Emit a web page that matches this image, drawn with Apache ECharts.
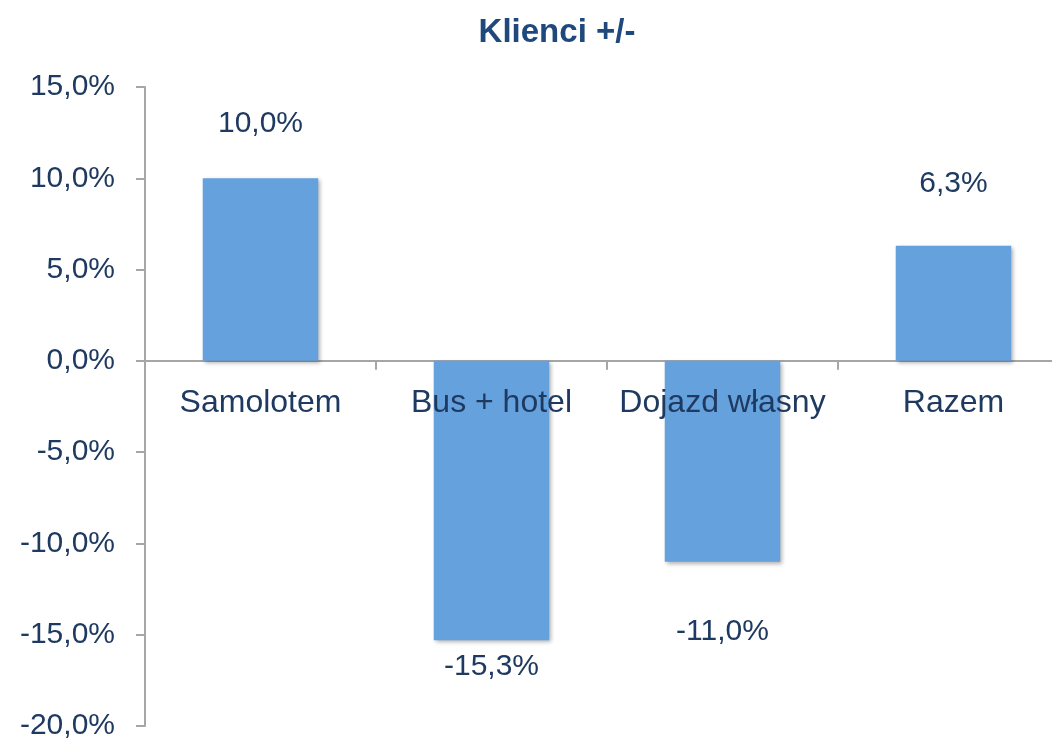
<!DOCTYPE html>
<html><head><meta charset="utf-8">
<script src="https://cdn.jsdelivr.net/npm/echarts@6/dist/echarts.min.js"></script>
<style>html,body{margin:0;padding:0;background:#fff}#c{width:1052px;height:744px}</style>
</head><body><div id="c"></div>
<script>
const categories = ['Samolotem', 'Bus + hotel', 'Dojazd własny', 'Razem'];
const values = [10.0, -15.3, -11.0, 6.3];
const yTicks = [-20, -15, -10, -5, 0, 5, 10, 15];

const labelDist = [40, 12, 55, 47];
const fmt = v => v.toFixed(1).replace('.', ',') + '%';
const font = 'Liberation Sans, Arial, sans-serif';
const chart = echarts.init(document.getElementById('c'));
chart.setOption({
  animation: false,
  title: {
    text: 'Klienci +/-', left: 552, textAlign: 'center', top: 11,
    textStyle: { fontFamily: font, fontWeight: 'bold', fontSize: 33, color: '#1F497D' }
  },
  grid: { left: 145, right: -17, top: 87, bottom: 18, outerBoundsMode: 'none', containLabel: false },
  xAxis: {
    type: 'category', data: categories,
    axisLine: { onZero: true, lineStyle: { color: '#A6A6A6', width: 2 } },
    axisTick: { show: true, length: 9, lineStyle: { color: '#A6A6A6', width: 2 } },
    axisLabel: { show: false }
  },
  yAxis: {
    type: 'value', min: yTicks[0], max: yTicks[yTicks.length - 1], interval: 5,
    splitLine: { show: false },
    axisLine: { show: true, lineStyle: { color: '#A6A6A6', width: 2 } },
    axisTick: { show: true, length: 9, lineStyle: { color: '#A6A6A6', width: 2 } },
    axisLabel: { margin: 30, fontSize: 30, color: '#1F3A60', fontFamily: font, formatter: v => fmt(v) }
  },
  series: [{
    type: 'bar', barWidth: '50%',
    data: values.map((v, i) => ({
      value: v,
      label: { show: true, position: v >= 0 ? 'top' : 'bottom', distance: labelDist[i] }
    })),
    itemStyle: { color: '#65A1DD', shadowColor: 'rgba(0,0,0,0.3)', shadowBlur: 4, shadowOffsetX: 2, shadowOffsetY: 2 },
    label: { fontSize: 30, color: '#1F3A60', fontFamily: font, formatter: p => fmt(p.value) }
  }, {
    type: 'scatter', symbolSize: 0, silent: true, z: 5,
    itemStyle: { opacity: 1 },
    data: categories.map(c => [c, 0]),
    label: { show: true, position: 'bottom', distance: 26, fontSize: 32, color: '#1F3A60', fontFamily: font, formatter: p => p.value[0] }
  }]
});
</script></body></html>
